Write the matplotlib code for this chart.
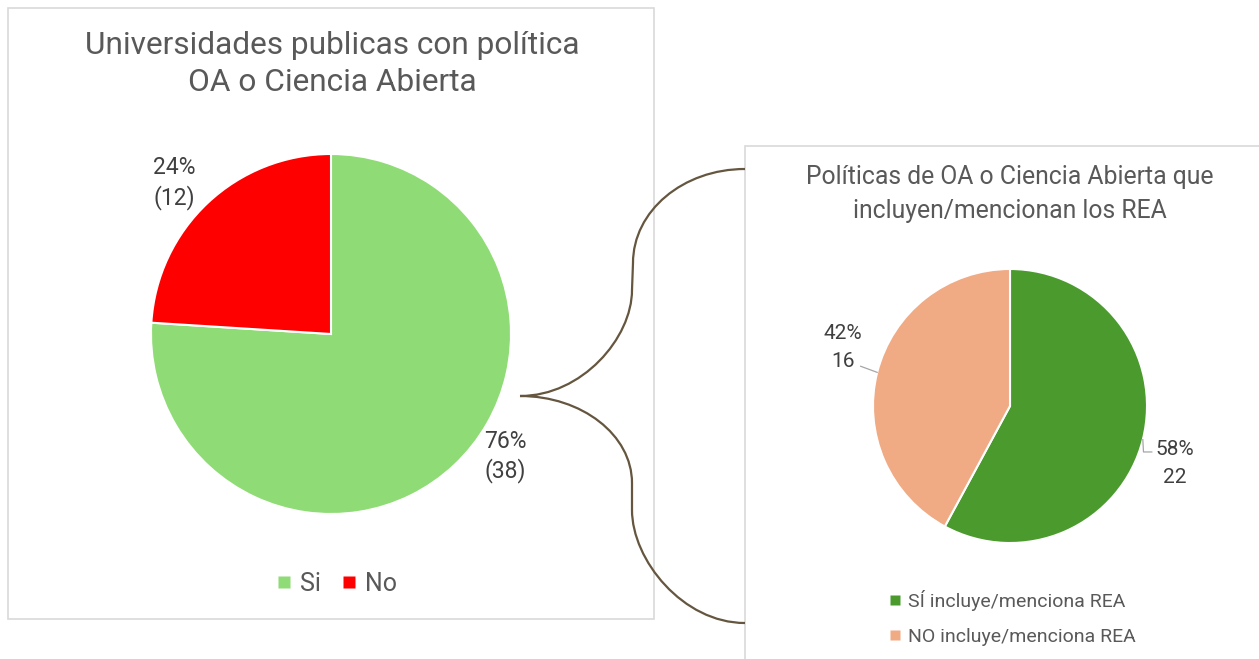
import numpy as np
import matplotlib.pyplot as plt
from matplotlib.patches import Rectangle, PathPatch
from matplotlib.path import Path
from matplotlib.lines import Line2D

W, H = 1259, 659

plt.rcParams['font.family'] = ['Roboto', 'DejaVu Sans']

# Universidades publicas: con / sin política OA
uni_labels = ['Si', 'No']
uni_counts = [38, 12]
uni_colors = ['#8FDB75', '#FF0000']

# Políticas que incluyen REA
rea_labels = ['SÍ incluye/menciona REA', 'NO incluye/menciona REA']
rea_counts = [22, 16]
rea_colors = ['#4A9A2E', '#F0AA84']

TXT = '#595959'
LBL = '#404040'
FRAME = '#D9D9D9'
BRACE = '#65563F'


def fx(x):
    return x / W


def fy(y):
    return 1 - y / H


def pie_axes(fig, cx, cy, r):
    """ Square axes centred on a pixel position. """
    return fig.add_axes([fx(cx - r), fy(cy + r), 2 * r / W, 2 * r / H])


def pct_label(v, total, fmt):
    return fmt.format(p=round(100 * v / total), v=v)


fig = plt.figure(figsize=(W / 100, H / 100), dpi=100)

# panel frames
fig.add_artist(Rectangle((fx(8), fy(619)), (654 - 8) / W, (619 - 8) / H,
                         transform=fig.transFigure, facecolor='none',
                         edgecolor=FRAME, lw=1.2))
fig.add_artist(Rectangle((fx(745), fy(700)), (1300 - 745) / W, (700 - 146) / H,
                         transform=fig.transFigure, facecolor='none',
                         edgecolor=FRAME, lw=1.2))

# ---- left pie ----
ax1 = pie_axes(fig, 331, 334, 180)
wedges1, _ = ax1.pie(uni_counts, colors=uni_colors, startangle=90,
                     counterclock=False,
                     wedgeprops=dict(edgecolor='white', linewidth=1.5))
ax1.set_xlim(-1, 1)
ax1.set_ylim(-1, 1)
total1 = sum(uni_counts)
for v, (lx, ly) in zip(uni_counts, [(0.97, -0.68), (-0.87, 0.84)]):
    ax1.text(lx, ly, pct_label(v, total1, '{p}%\n({v})'), ha='center',
             va='center', fontsize=16.5, color=LBL, linespacing=1.3)

fig.text(fx(332), fy(64), 'Universidades publicas con política\nOA o Ciencia Abierta',
         ha='center', va='center', fontsize=22.8, color=TXT, linespacing=1.38)

h1 = [Line2D([], [], ls='none', marker='s', ms=9, mec='none', mfc=c) for c in uni_colors]
ax1.legend(h1, uni_labels, loc='center', bbox_to_anchor=(fx(336), fy(584)),
           bbox_transform=fig.transFigure, ncol=2, frameon=False,
           fontsize=18, labelcolor=TXT, handlelength=0.7, handletextpad=0.3,
           columnspacing=0.75)

# ---- right pie ----
ax2 = pie_axes(fig, 1010, 406, 137)
wedges2, _ = ax2.pie(rea_counts, colors=rea_colors, startangle=90,
                     counterclock=False,
                     wedgeprops=dict(edgecolor='white', linewidth=1.5))
ax2.set_xlim(-1, 1)
ax2.set_ylim(-1, 1)
total2 = sum(rea_counts)
label_pos2 = [(1.205, -0.42), (-1.22, 0.43)]
for w, v, (lx, ly) in zip(wedges2, rea_counts, label_pos2):
    mid = np.deg2rad((w.theta1 + w.theta2) / 2)
    ex, ey = np.cos(mid), np.sin(mid)
    ax2.text(lx, ly, pct_label(v, total2, '{p}%\n{v}'), ha='center',
             va='center', fontsize=15, color=LBL, linespacing=1.6)
    # leader line from wedge edge to label
    if ex > 0:
        xs, ys = [ex, ex + 0.005, lx - 0.17], [ey, ey - 0.09, ey - 0.09]
    else:
        xs, ys = [ex, lx + 0.13], [ey, ly - 0.14]
    ax2.plot(xs, ys, color='#A6A6A6', lw=0.9, clip_on=False)

fig.text(fx(1010), fy(194), 'Políticas de OA o Ciencia Abierta que\nincluyen/mencionan los REA',
         ha='center', va='center', fontsize=17.8, color=TXT, linespacing=1.5)

h2 = [Line2D([], [], ls='none', marker='s', ms=7, mec='none', mfc=c) for c in rea_colors]
ax2.legend(h2, rea_labels, loc='center left', bbox_to_anchor=(fx(872), fy(618)),
           bbox_transform=fig.transFigure, ncol=1, frameon=False,
           fontsize=14, labelcolor=TXT, handlelength=0.6, handletextpad=0.35,
           labelspacing=0.85)

# ---- curly brace joining the two charts ----
pts = [(745, 169), (683, 169), (633, 211), (633, 263),
       (632, 290),
       (632, 338), (582, 396), (520, 396),
       (582, 396), (632, 435), (632, 483),
       (632, 510),
       (632, 560), (683, 623), (745, 623)]
codes = [Path.MOVETO, Path.CURVE4, Path.CURVE4, Path.CURVE4,
         Path.LINETO,
         Path.CURVE4, Path.CURVE4, Path.CURVE4,
         Path.CURVE4, Path.CURVE4, Path.CURVE4,
         Path.LINETO,
         Path.CURVE4, Path.CURVE4, Path.CURVE4]
brace = Path([(fx(x), fy(y)) for x, y in pts], codes)
fig.add_artist(PathPatch(brace, transform=fig.transFigure, facecolor='none',
                         edgecolor=BRACE, lw=1.6, zorder=5))

fig.savefig('out.png', dpi=100, facecolor='white')
